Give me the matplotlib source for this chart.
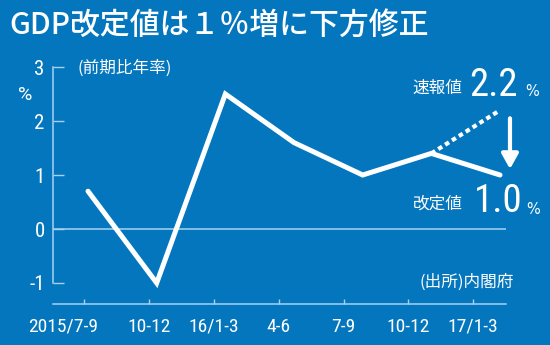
import matplotlib
matplotlib.use("Agg")
import matplotlib.pyplot as plt
from matplotlib.transforms import ScaledTranslation

# data
quarters = ["2015/7-9", "10-12", "16/1-3", "4-6", "7-9", "10-12", "17/1-3"]
growth = [0.7, -1.0, 2.5, 1.6, 1.0, 1.4, 1.0]
prelim = 2.2          # 速報値
revised = growth[-1]  # 改定値
yticks = [-1, 0, 1, 2, 3]

BG = "#0476be"
LINE = "#a6d2ef"
CJK = ["Noto Sans CJK JP", "DejaVu Sans"]
NARROW = ["Roboto Condensed", "DejaVu Sans Condensed", "Liberation Sans Narrow", "Roboto"]

W, H = 550, 345
fig = plt.figure(figsize=(W / 100, H / 100), dpi=100, facecolor=BG)

def px(x, y):
    return x / W, 1 - y / H

# axes box in pixels: x 53..506, y 60..304
ax = fig.add_axes([53 / W, (H - 304) / H, (506 - 53) / W, (304 - 60) / H])
ax.set_facecolor(BG)
ax.set_xlim(-0.478, 6.504)
ax.set_ylim(-1.389, 3.13)

for s in ["top", "right"]:
    ax.spines[s].set_visible(False)
ax.spines["left"].set_bounds(-1, 3)
ax.spines["left"].set_color(LINE)
ax.spines["bottom"].set_color(LINE)
ax.spines["left"].set_linewidth(1.1)
ax.spines["bottom"].set_linewidth(1.1)

ax.set_yticks(yticks)
ax.set_yticklabels([str(v) for v in yticks], family=NARROW, fontsize=15, color="white")
ax.tick_params(axis="y", direction="in", length=8, width=1, color=LINE, pad=6)
ax.set_xticks(range(len(quarters)))
ax.set_xticklabels(quarters, family=NARROW, fontsize=14, color="white")
ax.tick_params(axis="x", direction="in", length=3.6, width=1, color=LINE, pad=10)

# first label: the "7-9" part sits on the tick, year sticks out left
lab0 = ax.get_xticklabels()[0]
lab0.set_ha("right")
lab0.set_transform(lab0.get_transform() + ScaledTranslation(0.145, 0, fig.dpi_scale_trans))

ax.axhline(0, color=LINE, lw=1.1, zorder=1)

# data drawn on its own x scale (points sit slightly off the ticks)
axd = ax.twiny()
axd.set_xlim(-0.51, 6.087)
axd.axis("off")
xs = list(range(len(growth)))
axd.plot(xs, growth, color="white", lw=3.6, solid_capstyle="round",
         solid_joinstyle="miter", clip_on=False, zorder=3)
axd.plot([xs[-2], xs[-1]], [growth[-2], prelim], color="white", lw=3.0,
         dashes=(1.1, 0.85), dash_capstyle="butt", clip_on=False, zorder=3)
axd.annotate("", xy=(6.145, 1.11), xytext=(6.145, 2.05),
             arrowprops=dict(arrowstyle="-|>,head_width=0.5,head_length=0.9",
                             lw=3, color="white", shrinkA=0, shrinkB=0),
             annotation_clip=False)

# texts
fig.text(*px(9, 25), "GDP改定値は１％増に下方修正", family=CJK, fontsize=21.5,
         weight="medium", color="white", va="center", ha="left")
fig.text(*px(77, 68), "(前期比年率)", family=CJK, fontsize=12, color="white",
         va="center", ha="left")
fig.text(*px(25, 95), "%", family=["Roboto", "DejaVu Sans"], fontsize=14,
         color="white", va="center", ha="center")
fig.text(*px(514, 282), "(出所)内閣府", family=CJK, fontsize=12, color="white",
         va="center", ha="right")

fig.text(*px(462, 88), "速報値", family=CJK, fontsize=12, color="white",
         va="center", ha="right")
fig.text(*px(469, 86), f"{prelim:.1f}", family=NARROW, fontsize=28, color="white",
         va="center", ha="left")
fig.text(*px(525, 92), "%", family="DejaVu Sans", fontsize=10.5, color="white",
         va="center", ha="left")
fig.text(*px(463, 204), "改定値", family=CJK, fontsize=12, color="white",
         va="center", ha="right")
fig.text(*px(474, 202), f"{revised:.1f}", family=NARROW, fontsize=28, color="white",
         va="center", ha="left")
fig.text(*px(526, 210), "%", family="DejaVu Sans", fontsize=10.5, color="white",
         va="center", ha="left")

fig.savefig("out.png", dpi=100, facecolor=BG)
